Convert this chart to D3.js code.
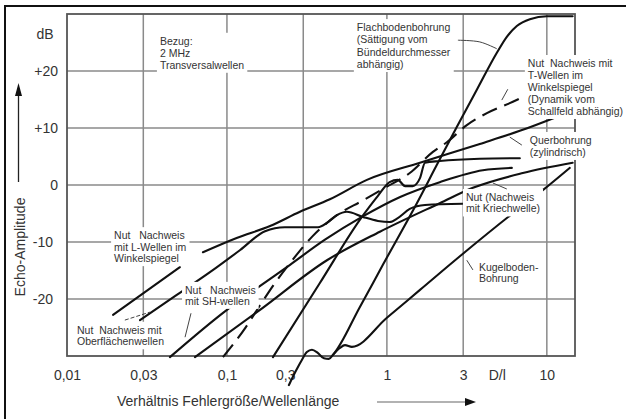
<!DOCTYPE html>
<html><head><meta charset="utf-8">
<script src="https://cdn.jsdelivr.net/npm/d3@7"></script>
<style>
body{margin:0;background:#fff}
svg{display:block;font-family:"Liberation Sans",Arial,sans-serif}
.lbl text{white-space:pre}
</style></head><body>
<svg id="chart" width="626" height="419"></svg>
<script>
// Echo amplitude (dB) against defect size / wavelength (D/λ) for several reflectors
const flachboden = [[0.244,-35.1],[0.270,-32.6],[0.294,-30.7],[0.316,-29.3],[0.340,-28.9],[0.371,-29.5],[0.404,-30.4],[0.434,-30.5],[0.460,-29.8],[0.678,-21.4],[0.944,-14.0],[1.54,-3.2],[2.05,3.5],[2.74,10.2],[3.65,16.7],[4.87,23.2],[5.62,26.0],[6.49,27.9],[7.83,29.1],[10,29.6],[14.5,29.6]];
const kugelboden = [[0.460,-29.8],[0.508,-28.6],[0.547,-28.1],[0.604,-28.4],[1.0,-23.3],[1.61,-18.4],[2.86,-12.5],[6.04,-5.1],[9.44,-0.9],[13.9,3.0]];
const steileKurve = [[0.194,-30.2],[0.381,-17.2],[0.698,-5.6],[0.879,-1.9],[1.04,0.5],[1.17,0.9],[1.30,-0.2],[1.45,-0.2],[1.61,1.2],[1.73,3.9],[2.14,4.2],[3.81,4.6],[6.78,4.7]];
const querbohrung = [[0.0708,-11.8],[0.115,-9.3],[0.186,-7.2],[0.286,-4.7],[0.44,-2.5],[0.75,0.9],[1.61,3.9],[3.81,7.2],[6.78,9.5],[11.4,11.9]];
const nutLWellen = [[0.0194,-22.8],[0.0508,-14.4]];
const nutOberflaeche = [[0.0286,-23.7],[0.0473,-19.5],[0.0783,-15.3],[0.121,-11.4],[0.173,-8.1],[0.230,-7.4],[0.371,-7.4],[0.428,-6.5],[0.487,-5.3],[0.562,-4.7],[0.708,-5.6],[0.879,-6.3],[1.04,-6.5],[1.17,-5.8],[1.39,-4.2],[1.73,-3.5],[2.99,-3.3]];
const nutSH = [[0.044,-30.2],[0.1,-21.9],[0.154,-18.1],[0.248,-14.0],[0.41,-9.6],[0.698,-5.6],[1.21,-2.1],[2.14,0.5],[3.98,2.6],[6.04,3.0]];
const nutKriechwelle = [[0.0631,-30.2],[0.161,-21.9],[0.422,-13.2],[0.904,-8.2],[2.14,-3.2],[3.45,-0.5],[7.08,2.1],[14.5,3.9]];
const nutTWellen = [[0.0944,-30.2],[0.130,-25.1],[0.161,-21.1],[0.1995,-17.2],[0.248,-13.7],[0.340,-9.1],[0.487,-5.3],[0.698,-2.8],[0.972,-0.5],[1.39,2.1],[1.94,5.8],[2.37,7.5],[3.16,10.5],[4.22,12.6],[6.13,14.6],[7.5,15.8]];

const xTicks = [0.01, 0.03, 0.1, 0.3, 1, 3, 10];
const xTickLabels = ["0,01", "0,03", "0,1", "0,3", "1", "3", "10"];
const yTicks = [-20, -10, 0, 10, 20];
const yTickLabels = ["-20", "-10", "0", "+10", "+20"];

const solidCurves = [flachboden, kugelboden, steileKurve, querbohrung, nutLWellen, nutOberflaeche, nutSH, nutKriechwelle];
const dashedCurves = [nutTWellen];

// text blocks: left edge and first baseline in chart units
const notes = [
  {at:[0.0381, 24.6], lh:12, lines:["Bezug:", "2 MHz", "Transversalwellen"]},
  {at:[0.649, 27.0], lh:12.3, lines:["Flachbodenbohrung", "(Sättigung vom", "Bündeldurchmesser", "abhängig)"]},
  {at:[7.61, 20.7], lh:12, lines:["Nut  Nachweis mit", "T-Wellen im", "Winkelspiegel", "(Dynamik vom", "Schallfeld abhängig)"]},
  {at:[7.83, 7.2], lh:12, lines:["Querbohrung", "(zylindrisch)"]},
  {at:[3.12, -2.8], lh:11.5, lines:["Nut (Nachweis", "mit Kriechwelle)"]},
  {at:[3.76, -15.1], lh:11, lines:["Kugelboden-", "Bohrung"]},
  {at:[0.0197, -9.5], lh:11.5, lines:["Nut   Nachweis", "mit L-Wellen im", "Winkelspiegel"]},
  {at:[0.01155, -26.1], lh:11.5, lines:["Nut  Nachweis mit", "Oberflächenwellen"]},
  {at:[0.0547, -19.1], lh:11, lines:["Nut   Nachweis", "mit SH-wellen"]}
];
// short pointer strokes from text blocks to their curves
const pointers = [
  {pts:[[2.78,25.4],[3.81,25.1],[4.87,23.9]]},
  {pts:[[5.23,14.9],[5.70,16.8]]},
  {pts:[[5.87,8.4],[6.98,7.0]]},
  {pts:[[4.60,0.35],[5.62,-0.7]]},
  {pts:[[3.16,-13.2],[3.45,-14.9]]},
  {pts:[[0.0547,-26.7],[0.0596,-22.5]]},
  {pts:[[0.0230,-23.7],[0.033,-22.3]], dash:true}
];

const svg = d3.select("#chart");
const x = d3.scaleLog().domain([0.01, 15]).range([67, 575]);
const y = d3.scaleLinear().domain([-30, 30]).range([356, 14]);
const [x0, x1] = x.range();
const [yb, yt] = y.range();

// outer frame
svg.append("rect").attr("x", 5).attr("y", 6).attr("width", 650).attr("height", 440)
  .attr("fill", "none").attr("stroke", "#111").attr("stroke-width", 2);

// grid
const grid = svg.append("g").attr("stroke", "#8a8a8a").attr("stroke-width", 1.5);
grid.selectAll("line.v").data(xTicks.slice(1)).join("line")
  .attr("x1", d => x(d)).attr("x2", d => x(d)).attr("y1", yt).attr("y2", yb);
grid.selectAll("line.h").data(yTicks).join("line")
  .attr("x1", x0).attr("x2", x1).attr("y1", d => y(d)).attr("y2", d => y(d));

// plot frame
svg.append("rect").attr("x", x0).attr("y", yt).attr("width", x1 - x0).attr("height", yb - yt)
  .attr("fill", "none").attr("stroke", "#555").attr("stroke-width", 1.8);

// axes (labels only)
const xAxis = svg.append("g").attr("transform", `translate(0,${yb})`)
  .call(d3.axisBottom(x).tickValues(xTicks).tickSize(0).tickPadding(14)
    .tickFormat((d, i) => xTickLabels[i]));
xAxis.select(".domain").remove();
xAxis.selectAll("text").attr("font-size", 14).attr("fill", "#333")
  .attr("font-family", "Liberation Sans, Arial, sans-serif")
  .attr("dx", d => d === 0.3 ? -18 : 0);

const yAxis = svg.append("g").attr("transform", `translate(${x0},0)`)
  .call(d3.axisLeft(y).tickValues(yTicks).tickSize(0).tickPadding(9)
    .tickFormat((d, i) => yTickLabels[i]));
yAxis.select(".domain").remove();
yAxis.selectAll("text").attr("font-size", 14).attr("fill", "#333")
  .attr("font-family", "Liberation Sans, Arial, sans-serif")
  .attr("dx", d => d < 0 ? -5 : 0);

svg.append("text").attr("x", 45).attr("y", 39).attr("text-anchor", "middle")
  .attr("font-size", 14).attr("fill", "#333").text("dB");
svg.append("text").attr("x", x(4.9)).attr("y", yb + 24).attr("text-anchor", "middle")
  .attr("font-size", 14).attr("fill", "#333").text("D/l");

// axis titles with arrows
svg.append("text").attr("transform", "translate(20,247) rotate(-90)").attr("text-anchor", "middle")
  .attr("dy", "0.35em").attr("font-size", 14).attr("fill", "#333").text("Echo-Amplitude");
svg.append("line").attr("x1", 18.5).attr("x2", 18.5).attr("y1", 182).attr("y2", 92)
  .attr("stroke", "#222").attr("stroke-width", 1.3);
svg.append("path").attr("d", "M18.5,83 L15,96 L22,96 Z").attr("fill", "#111");

svg.append("text").attr("x", 117).attr("y", 406).attr("font-size", 14).attr("fill", "#333")
  .text("Verhältnis Fehlergröße/Wellenlänge");
svg.append("line").attr("x1", 377).attr("x2", 466).attr("y1", 402).attr("y2", 402)
  .attr("stroke", "#999").attr("stroke-width", 1.3);
svg.append("path").attr("d", "M476,402 L465,398 L465,406 Z").attr("fill", "#111");

// curves
const line = d3.line().x(d => x(d[0])).y(d => y(d[1])).curve(d3.curveMonotoneX);
svg.append("g").selectAll("path").data(solidCurves).join("path")
  .attr("d", line).attr("fill", "none").attr("stroke", "#111").attr("stroke-width", 2.1)
  .attr("stroke-linejoin", "round").attr("stroke-linecap", "round");
svg.append("g").selectAll("path").data(dashedCurves).join("path")
  .attr("d", line).attr("fill", "none").attr("stroke", "#111").attr("stroke-width", 2.1)
  .attr("stroke-dasharray", "16,8");

// text blocks on white ground
const lbl = svg.append("g").attr("class", "lbl");
notes.forEach(n => {
  const g = lbl.append("g");
  const t = g.append("text").attr("font-size", 10.5).attr("fill", "#333");
  n.lines.forEach((s, i) => {
    t.append("tspan").attr("x", x(n.at[0])).attr("y", y(n.at[1]) + i * n.lh).text(s);
  });
  const b = t.node().getBBox();
  g.insert("rect", "text").attr("x", b.x - 3).attr("y", b.y - 2)
    .attr("width", b.width + 6).attr("height", b.height + 4).attr("fill", "#fff");
});

const pline = d3.line().x(d => x(d[0])).y(d => y(d[1])).curve(d3.curveCatmullRom);
svg.append("g").selectAll("path").data(pointers).join("path")
  .attr("d", d => pline(d.pts)).attr("fill", "none").attr("stroke", "#444").attr("stroke-width", 1)
  .attr("stroke-dasharray", d => d.dash ? "4,2" : null);
</script>
</body></html>
